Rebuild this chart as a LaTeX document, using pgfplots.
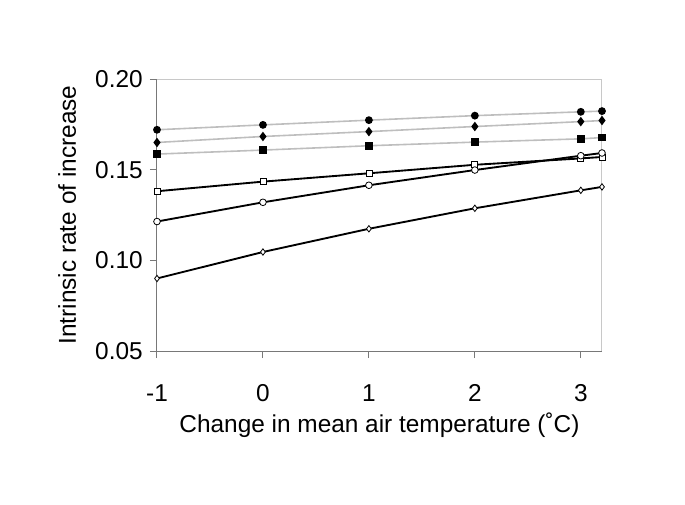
\documentclass[border=0pt]{standalone}
\usepackage{fontspec}
\setmainfont{Liberation Sans}
\usepackage{pgfplots}
\pgfplotsset{compat=1.18}
\definecolor{lgline}{RGB}{190,190,190}
\definecolor{axgray}{RGB}{120,120,120}
\definecolor{boxgray}{RGB}{200,200,200}
\newcommand{\bigf}{\fontsize{18.3}{22}\selectfont}
\begin{document}
\begin{tikzpicture}
\begin{axis}[
  name=ax,
  scale only axis,
  width=333.75pt, height=204pt,
  xmin=-1, xmax=3.2, ymin=0.05, ymax=0.20,
  xtick={-1,0,1,2,3},
  ytick={0.05,0.10,0.15,0.20},
  clip=false,
  axis line style={draw=boxgray, line width=0.75pt},
  tick pos=left,
  tick align=outside,
  major tick length=5.25pt,
  tick style={draw=axgray, line width=0.75pt},
  /pgf/number format/assume math mode=true,
  yticklabel style={/pgf/number format/fixed, /pgf/number format/fixed zerofill, /pgf/number format/precision=2, font=\bigf, anchor=east, inner sep=0pt, xshift=-5.25pt},
  xticklabel style={font=\bigf, anchor=base, inner sep=0pt, yshift=-32.25pt},
  xlabel={Change in mean air temperature (˚C)},
  ylabel={Intrinsic rate of increase},
  every axis x label/.style={at={([yshift=-60.75pt]axis description cs:0.5,0)}, anchor=base, font=\bigf, inner sep=0pt},
  every axis y label/.style={at={([xshift=-60.75pt]axis description cs:0,0.5)}, rotate=90, anchor=base, font=\bigf, inner sep=0pt},
]
\draw[axgray, line width=0.75pt] (rel axis cs:0,1) -- (rel axis cs:0,0) -- (rel axis cs:1,0);
% grey-line series (filled marks)
\addplot[lgline, line width=1.2pt, mark=*, mark size=2.3pt, mark options={draw=black, fill=black}] coordinates {
(-1,0.1720) (0,0.1747) (1,0.1773) (2,0.1798) (3,0.1819) (3.2,0.1823)};
\addplot[lgline, line width=1.2pt, mark=diamond*, mark size=2.6pt, mark options={draw=black, fill=black}] coordinates {
(-1,0.1650) (0,0.1683) (1,0.1710) (2,0.1738) (3,0.1765) (3.2,0.1771)};
\addplot[lgline, line width=1.2pt, mark=square*, mark size=2.25pt, mark options={draw=black, fill=black}] coordinates {
(-1,0.1586) (0,0.1608) (1,0.1632) (2,0.1652) (3,0.1670) (3.2,0.1677)};
% black-line series (open marks)
\addplot[black, line width=1.4pt, mark=square*, mark size=2.25pt, mark options={draw=black, fill=white, line width=0.6pt}] coordinates {
(-1,0.1381) (0,0.1434) (1,0.1480) (2,0.1527) (3,0.1562) (3.2,0.1570)};
\addplot[black, line width=1.4pt, mark=*, mark size=2.5pt, mark options={draw=black, fill=white, line width=0.6pt}] coordinates {
(-1,0.1214) (0,0.1320) (1,0.1414) (2,0.1498) (3,0.1577) (3.2,0.1592)};
\addplot[black, line width=1.4pt, mark=diamond*, mark size=2.4pt, mark options={draw=black, fill=white, line width=0.6pt}] coordinates {
(-1,0.0900) (0,0.1046) (1,0.1174) (2,0.1287) (3,0.1386) (3.2,0.1405)};
\end{axis}
\pgfresetboundingbox
\path[use as bounding box] ([xshift=-117.75pt,yshift=-114.75pt]ax.south west) rectangle ++(513.75pt,378pt);
\end{tikzpicture}
\end{document}
